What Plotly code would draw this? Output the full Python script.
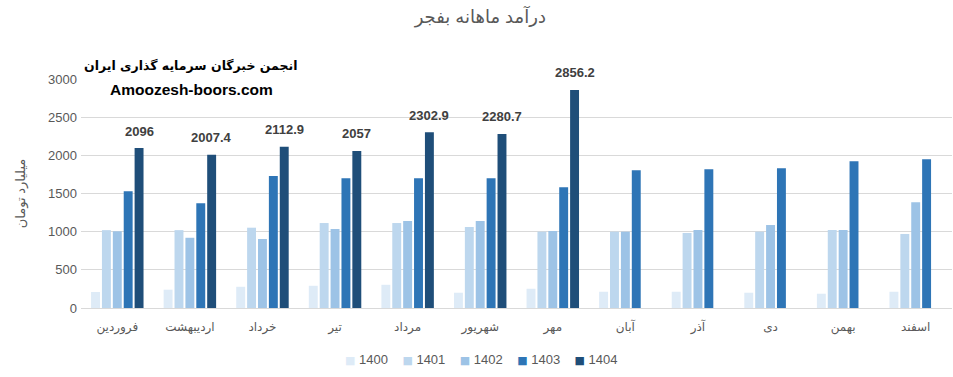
import plotly.graph_objects as go

months = ["فروردین", "اردیبهشت", "خرداد", "تیر", "مرداد", "شهریور",
          "مهر", "آبان", "آذر", "دی", "بهمن", "اسفند"]

y1400 = [210, 240, 278, 291, 304, 200, 252, 213, 213, 200, 187, 213]
y1401 = [1020, 1020, 1052, 1113, 1113, 1061, 1000, 1000, 983, 1000, 1022, 970]
y1402 = [1005, 920, 904, 1035, 1139, 1139, 1009, 1000, 1022, 1087, 1022, 1387]
y1403 = [1530, 1372, 1730, 1700, 1700, 1700, 1583, 1804, 1817, 1830, 1922, 1948]
y1404 = [2096, 2007.4, 2112.9, 2057, 2302.9, 2280.7, 2856.2]

series_names = ["1400", "1401", "1402", "1403", "1404"]
series_values = [y1400, y1401, y1402, y1403, y1404]
colors = ["#DEEBF7", "#BDD7EE", "#9DC3E6", "#2E75B6", "#1F4E79"]

title_text = "درآمد ماهانه بفجر"
yaxis_title = "میلیارد تومان"
watermark_fa = "انجمن خبرگان سرمایه گذاری ایران"
watermark_en = "Amoozesh-boors.com"

FONT = "Liberation Sans, Arial, DejaVu Sans, sans-serif"
GRAY = "#595959"

fig = go.Figure()
for name, vals, col in zip(series_names, series_values, colors):
    fig.add_trace(go.Bar(
        name=name,
        x=months[:len(vals)],
        y=vals,
        marker=dict(color=col, line=dict(width=0)),
        showlegend=False,
    ))

# data labels on the 1404 series
for m, v in zip(months, y1404):
    fig.add_annotation(
        x=m, y=v, xref="x", yref="y",
        text=f"{v:g}", showarrow=False,
        xshift=21.8, yshift=17,
        font=dict(family=FONT, size=13, color="#404040", weight="bold"),
    )

# compact legend (Excel style: small square + label)
legend_items = [
    f'<span style="color:{c};font-family:DejaVu Sans;font-size:11px">■</span> {n}'
    for n, c in zip(series_names, colors)
]
fig.add_annotation(
    x=0.46, y=-0.227, xref="paper", yref="paper",
    xanchor="center", yanchor="middle",
    text="&nbsp;&nbsp;&nbsp;&nbsp;".join(legend_items), showarrow=False,
    font=dict(family=FONT, size=13, color=GRAY),
)

fig.add_annotation(
    x=0.126, y=1.061, xref="paper", yref="paper",
    xanchor="center", yanchor="middle",
    text=watermark_fa, showarrow=False,
    font=dict(family="DejaVu Sans, sans-serif", size=12.5, color="#000000", weight="bold"),
)
fig.add_annotation(
    x=0.127, y=0.956, xref="paper", yref="paper",
    xanchor="center", yanchor="middle",
    text=watermark_en, showarrow=False,
    font=dict(family=FONT, size=15.5, color="#000000", weight="bold"),
)

fig.update_layout(
    width=953, height=377,
    margin=dict(l=81, r=1, t=79, b=69),
    paper_bgcolor="white", plot_bgcolor="white",
    barmode="group", bargap=0.25, bargroupgap=0.18,
    font=dict(family=FONT, size=13, color=GRAY),
    title=dict(text=title_text, x=0.504, xanchor="center",
               yref="container", y=0.955, yanchor="middle",
               font=dict(family=FONT, size=18, color=GRAY)),
    showlegend=False,
)
fig.update_xaxes(
    categoryorder="array", categoryarray=months,
    showgrid=False, showline=False, ticks="", ticklabelstandoff=10,
    tickfont=dict(family=FONT, size=12, color=GRAY),
)
fig.update_yaxes(
    range=[0, 3000], dtick=500, showgrid=True, gridcolor="#D9D9D9", gridwidth=1,
    zeroline=True, zerolinecolor="#D9D9D9", zerolinewidth=1,
    showline=False, ticks="", ticklabelstandoff=3,
    tickfont=dict(family=FONT, size=13, color=GRAY),
    title=dict(text=yaxis_title, standoff=19,
               font=dict(family=FONT, size=13, color=GRAY)),
)

fig.write_html("out.html", config={"displayModeBar": False},
               post_script="document.body.style.margin='0';document.body.style.overflow='hidden';")
